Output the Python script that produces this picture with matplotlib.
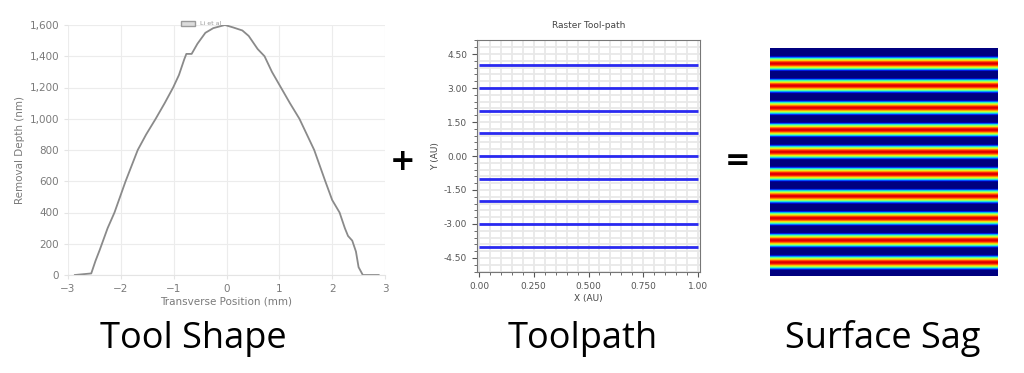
import numpy as np
import matplotlib
matplotlib.use('Agg')
import matplotlib.pyplot as plt
from matplotlib.patches import Patch
from matplotlib.ticker import MultipleLocator, FuncFormatter

plt.rcParams['font.family'] = ['DejaVu Sans']

# tool shape
tool_x = [-2.87, -2.56, -2.48, -2.40, -2.25, -2.12, -1.91, -1.68, -1.52, -1.34,
          -1.17, -1.01, -0.90, -0.80, -0.76, -0.66, -0.55, -0.40, -0.25, -0.03,
          0.12, 0.30, 0.42, 0.59, 0.72, 0.86, 1.03, 1.20, 1.38, 1.52, 1.66,
          1.87, 2.00, 2.14, 2.24, 2.30, 2.38, 2.45, 2.50, 2.58, 2.88]
tool_depth = [0, 10, 90, 160, 300, 400, 600, 800, 900, 1000,
              1100, 1200, 1280, 1380, 1415, 1415, 1480, 1550, 1580, 1600,
              1585, 1565, 1530, 1446, 1400, 1300, 1200, 1100, 1000, 900, 800,
              600, 480, 400, 300, 250, 220, 150, 50, 0, 0]

# raster passes (toolpath panel)
path_y = [4, 3, 2, 1, 0, -1, -2, -3, -4]
path_x = [0.0, 1.0]

# surface sag: pass centres across the sample (mm)
sag_passes = [5.2 + 7.5 * k for k in range(10)]
sag_height = 77.2

fig = plt.figure(figsize=(10.24, 3.73), dpi=100)

# ---- tool shape
ax1 = fig.add_axes([68 / 1024, 1 - 275 / 373, 317 / 1024, 250 / 373])
ax1.plot(tool_x, tool_depth, color='#8a8a8a', lw=1.3)
ax1.set_xlim(-3, 3)
ax1.set_ylim(0, 1600)
ax1.xaxis.set_major_locator(MultipleLocator(1))
ax1.yaxis.set_major_locator(MultipleLocator(200))
ax1.yaxis.set_major_formatter(FuncFormatter(lambda v, p: f'{int(v):,}'))
ax1.grid(True, color='#ececec', lw=0.8)
ax1.set_axisbelow(True)
for s in ['top', 'right', 'left']:
    ax1.spines[s].set_visible(False)
ax1.spines['bottom'].set_color('#e4e4e4')
ax1.tick_params(colors='#e4e4e4', labelcolor='#7a7a7a', labelsize=7.5, length=3)
ax1.set_xlabel('Transverse Position (mm)', color='#7a7a7a', fontsize=7.5, labelpad=2)
ax1.set_ylabel('Removal Depth (nm)', color='#7a7a7a', fontsize=7.5, labelpad=3)
ax1.legend(handles=[Patch(facecolor='#dcdcdc', edgecolor='#9a9a9a', label='Li et al')],
           loc='lower center', bbox_to_anchor=(0.42, 0.985), frameon=False,
           fontsize=4.5, handlelength=2.2, handleheight=0.9, borderaxespad=0,
           labelcolor='#999999')

# ---- toolpath
ax2 = fig.add_axes([477 / 1024, 1 - 272 / 373, 223 / 1024, 232 / 373])
for yv in path_y:
    ax2.plot(path_x, [yv, yv], color='#2a2af0', lw=2.0, solid_capstyle='butt')
ax2.set_xlim(-0.009, 1.009)
ax2.set_ylim(-5.12, 5.12)
ax2.set_xticks([0, 0.25, 0.5, 0.75, 1.0])
ax2.set_xticklabels(['0.00', '0.250', '0.500', '0.750', '1.00'])
ax2.set_yticks([4.5, 3.0, 1.5, 0.0, -1.5, -3.0, -4.5])
ax2.set_yticklabels(['4.50', '3.00', '1.50', '0.00', '-1.50', '-3.00', '-4.50'])
ax2.xaxis.set_minor_locator(MultipleLocator(0.05))
ax2.yaxis.set_minor_locator(MultipleLocator(0.3))
ax2.grid(True, which='both', color='#e8e8e8', lw=1.3)
ax2.set_axisbelow(True)
for s in ax2.spines.values():
    s.set_color('#777777')
    s.set_linewidth(0.8)
ax2.tick_params(which='major', colors='#555555', labelsize=6.5, length=3.5, width=0.8)
ax2.tick_params(which='minor', colors='#555555', length=2, width=0.6)
ax2.set_title('Raster Tool-path', fontsize=6.5, color='#444444', pad=9)
ax2.set_xlabel('X (AU)', fontsize=6.5, color='#444444', labelpad=2)
ax2.set_ylabel('Y (AU)', fontsize=6.5, color='#444444', labelpad=3)

# ---- surface sag (tool shape swept along each pass)
ys = np.linspace(0, sag_height, 400)
sag = np.zeros_like(ys)
for c in sag_passes:
    sag += np.interp(ys - c, tool_x, tool_depth, left=0, right=0)
img = np.tile(sag[:, None], (1, 50))
ax3 = fig.add_axes([770 / 1024, 1 - 276 / 373, 228 / 1024, 228 / 373])
ax3.imshow(img, cmap='jet', aspect='auto', interpolation='bilinear',
           extent=[0, 1, sag_height, 0], vmax=sag.max() * 1.08)
ax3.axis('off')

# ---- operators and captions
fig.text(403 / 1024, 1 - 161 / 373, '+', fontsize=22, fontweight='bold',
         ha='center', va='center')
fig.text(738 / 1024, 1 - 160 / 373, '=', fontsize=22, fontweight='bold',
         ha='center', va='center')
for xc, label in [(193, 'Tool Shape'), (583, 'Toolpath'), (883, 'Surface Sag')]:
    fig.text(xc / 1024, 1 - 348 / 373, label, fontsize=26, family='Open Sans',
             ha='center', va='baseline')

fig.savefig('out.png', dpi=100)
